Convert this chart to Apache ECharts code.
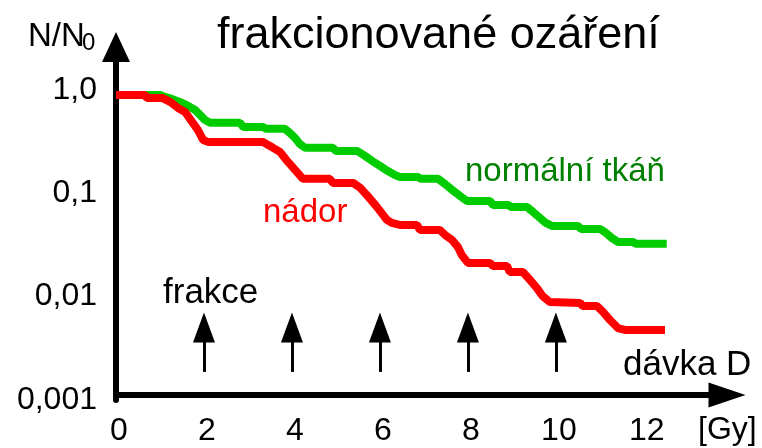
<!DOCTYPE html>
<html>
<head>
    <meta charset="UTF-8">
    <title>frakcionované ozáření</title>
    <script src="https://cdn.jsdelivr.net/npm/echarts@6/dist/echarts.min.js"></script>
    <style>
        html, body { margin: 0; padding: 0; background: #fff; }
        #chart { width: 762px; height: 448px; }
    </style>
</head>
<body>
    <div id="chart"></div>
    <script>
        // data: dose [Gy], surviving fraction N/N0
        var normalTissue = [
            [0, 0.895], [1.0, 0.895], [1.11, 0.856], [1.27, 0.818], [1.45, 0.765], [1.64, 0.700],
            [1.80, 0.640], [1.91, 0.573], [2.02, 0.513], [2.14, 0.480], [2.82, 0.480], [2.89, 0.438],
            [3.34, 0.438], [3.41, 0.420], [3.84, 0.420], [3.95, 0.384], [4.07, 0.343], [4.18, 0.300],
            [4.30, 0.275], [4.93, 0.275], [5.0, 0.257], [5.48, 0.257], [5.66, 0.230], [5.82, 0.206],
            [6.0, 0.184], [6.18, 0.164], [6.34, 0.150], [6.45, 0.144], [6.86, 0.144], [6.93, 0.138],
            [7.32, 0.138], [7.48, 0.123], [7.64, 0.108], [7.82, 0.0942], [7.98, 0.0843], [8.50, 0.0843],
            [8.57, 0.0771], [8.91, 0.0771], [8.98, 0.0738], [9.34, 0.0738], [9.48, 0.0660], [9.64, 0.0577],
            [9.77, 0.0516], [9.91, 0.0483], [10.5, 0.0483], [10.57, 0.0452], [11.0, 0.0452], [11.14, 0.0413],
            [11.27, 0.0370], [11.41, 0.0338], [11.75, 0.0338], [11.82, 0.0324], [12.52, 0.0324]
        ];
        var tumor = [
            [0, 0.895], [0.66, 0.895], [0.70, 0.837], [1.05, 0.837], [1.23, 0.765], [1.41, 0.669],
            [1.57, 0.612], [1.73, 0.490], [1.86, 0.410], [1.98, 0.328], [2.09, 0.314], [3.34, 0.314],
            [3.45, 0.294], [3.57, 0.275], [3.73, 0.251], [3.91, 0.201], [4.11, 0.161], [4.25, 0.138],
            [4.86, 0.138], [4.93, 0.126], [5.39, 0.126], [5.55, 0.113], [5.70, 0.0964], [5.93, 0.0738],
            [6.16, 0.0552], [6.27, 0.0516], [6.45, 0.0494], [6.84, 0.0494], [6.91, 0.0442], [7.36, 0.0442],
            [7.48, 0.0395], [7.64, 0.0353], [7.77, 0.0303], [7.86, 0.0253], [8.00, 0.0212], [8.50, 0.0212],
            [8.57, 0.0198], [8.89, 0.0198], [8.95, 0.0173], [9.25, 0.0173], [9.41, 0.0145], [9.57, 0.0121],
            [9.70, 0.0101], [9.86, 0.00887], [10.55, 0.00868], [10.61, 0.00812], [10.93, 0.00812],
            [11.07, 0.00711], [11.23, 0.00594], [11.41, 0.00497], [11.57, 0.00476], [12.48, 0.00476]
        ];
        var fractionDoses = [2, 4, 6, 8, 10];
        var arrowFrom = 0.00187, arrowTo = 0.00503;
        var xTicks = [0, 2, 4, 6, 8, 10, 12];
        var yTickLabels = { '-3': '0,001', '-2': '0,01', '-1': '0,1', '0': '1,0' };

        var FONT = '"Liberation Sans", Arial, sans-serif';

        function txt(s, x, y, size, color) {
            return {
                type: 'text', x: x, y: y, silent: true,
                style: { text: s, fontSize: size, fontFamily: FONT, fill: color, verticalAlign: 'middle', align: 'left' }
            };
        }

        var chart = echarts.init(document.getElementById('chart'), null, { renderer: 'canvas' });
        chart.setOption({
            animation: false,
            backgroundColor: '#fff',
            title: {
                text: 'frakcionované ozáření',
                left: 212, top: 8,
                textStyle: { fontSize: 45, fontWeight: 'normal', fontFamily: FONT, color: '#000' }
            },
            grid: { left: 116, right: 35, top: 47, bottom: 48, outerBoundsMode: 'none' },
            xAxis: {
                type: 'value', min: 0, max: 13.89, interval: 2, offset: -5,
                axisLine: { symbol: ['none', 'triangle'], symbolSize: [25, 37], lineStyle: { color: '#000', width: 6 } },
                axisTick: { show: false },
                splitLine: { show: false },
                axisLabel: {
                    fontSize: 32, fontFamily: FONT, color: '#000', margin: 20, padding: [0, 0, 0, 6],
                    formatter: function (v) { return xTicks.indexOf(v) >= 0 ? String(v) : ''; }
                }
            },
            yAxis: {
                type: 'log', logBase: 10, min: 0.001, max: 2.6, offset: 4,
                axisLine: { symbol: ['none', 'triangle'], symbolSize: [28, 30], lineStyle: { color: '#000', width: 6 } },
                axisTick: { show: false },
                splitLine: { show: false },
                axisLabel: {
                    fontSize: 32, fontFamily: FONT, color: '#000', margin: 15,
                    formatter: function (v) {
                        var e = Math.round(Math.log10(v) * 1000) / 1000;
                        return yTickLabels[String(e)] || '';
                    }
                }
            },
            graphic: [
                txt('N/N', 28, 37, 33, '#000'),
                txt('0', 82, 43, 24, '#000'),
                txt('normální tkáň', 465, 172, 33, '#008000'),
                txt('nádor', 263, 213, 33, '#ff0000'),
                txt('frakce', 163, 293, 35, '#000'),
                txt('dávka D', 623, 365, 35, '#000'),
                txt('[Gy]', 698, 430, 32, '#000')
            ],
            series: [
                {
                    name: 'normální tkáň', type: 'line', data: normalTissue,
                    symbol: 'none', lineStyle: { color: '#00cc00', width: 8 },
                    markLine: {
                        silent: true, animation: false,
                        symbol: ['none', 'triangle'], symbolSize: [22, 30],
                        lineStyle: { color: '#000', width: 3, type: 'solid' },
                        label: { show: false },
                        data: fractionDoses.map(function (d) {
                            return [{ coord: [d, arrowFrom] }, { coord: [d, arrowTo] }];
                        })
                    }
                },
                {
                    name: 'nádor', type: 'line', data: tumor,
                    symbol: 'none', lineStyle: { color: '#ff0000', width: 8 }
                }
            ]
        });
    </script>
</body>
</html>
